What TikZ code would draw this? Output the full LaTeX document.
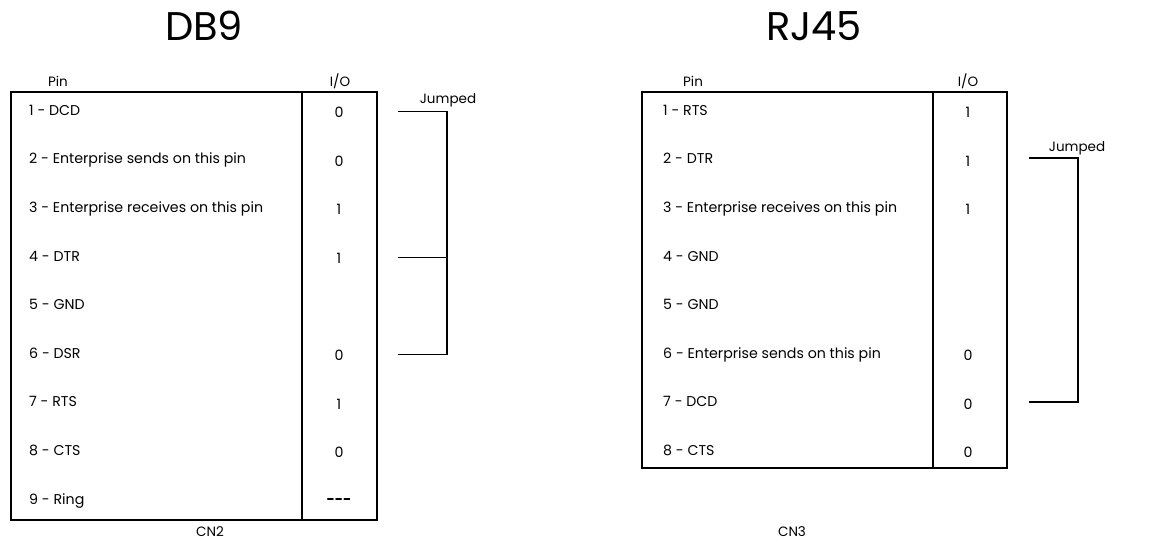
\documentclass[tikz,border=0pt]{standalone}
\usepackage{fontspec}
\setmainfont{Poppins}

\begin{document}
\begin{tikzpicture}[x=1pt, y=-1pt,
    title/.style={font=\fontsize{40}{44}\selectfont},
    head/.style={font=\fontsize{13.5}{15}\selectfont, inner sep=0pt},
    pin/.style={anchor=mid west, font=\fontsize{14.2}{16}\selectfont, inner sep=0pt},
    io/.style={font=\fontsize{14.2}{16}\selectfont, inner sep=0pt},
    frame/.style={line width=1.6pt},
    jumper/.style={line width=1.5pt}]
    \useasboundingbox (0, 0) rectangle (1156, 542);

    % DB9 connector
    \node[title] at (204, 26)(db9){DB9};
    \node[head] at (58, 81)(dbpin){Pin};
    \node[head] at (340, 81)(dbio){I/O};
    \draw[frame] (11, 92) rectangle (377, 520);
    \draw[frame, line width=2.2pt] (302, 92) -- (302, 520);
    \node[pin] at (29, 112.5)(db1){1 - DCD};
    \node[pin] at (29, 161.1)(db2){2 - Enterprise sends on this pin};
    \node[pin] at (29, 209.7)(db3){3 - Enterprise receives on this pin};
    \node[pin] at (29, 258.3)(db4){4 - DTR};
    \node[pin] at (29, 306.9)(db5){5 - GND};
    \node[pin] at (29, 355.5)(db6){6 - DSR};
    \node[pin] at (29, 404.1)(db7){7 - RTS};
    \node[pin] at (29, 452.7)(db8){8 - CTS};
    \node[pin] at (29, 501.3)(db9r){9 - Ring};
    \node[io] at (339, 112.5)(dbio1){0};
    \node[io] at (339, 161.1)(dbio2){0};
    \node[io] at (339, 209.7)(dbio3){1};
    \node[io] at (339, 258.3)(dbio4){1};
    \node[io] at (339, 355.5)(dbio6){0};
    \node[io] at (339, 404.1)(dbio7){1};
    \node[io] at (339, 452.7)(dbio8){0};
    \node[io] at (339, 501.3)(dbio9){\textbf{-{}-{}-}};
    \node[head] at (210, 532)(cn2){CN2};

    % DB9 jumper
    \coordinate (dbj1) at (398, 111.5);
    \coordinate (dbj4) at (398, 257.3);
    \coordinate (dbj6) at (398, 354.5);
    \coordinate (dbbar) at (447, 111.5);
    \node[head] at (448, 100)(dbjumped){Jumped};
    \draw[jumper] (dbj1) -- (dbbar) |- (dbj6);
    \draw[jumper] (dbj4) -- (dbbar |- dbj4);

    % RJ45 connector
    \node[title] at (814, 26)(rj45){RJ45};
    \node[head] at (693, 81)(rjpin){Pin};
    \node[head] at (968, 81)(rjio){I/O};
    \draw[frame] (642, 92) rectangle (1007, 468);
    \draw[frame, line width=2.2pt] (933, 92) -- (933, 468);
    \node[pin] at (663, 112.5)(rj1){1 - RTS};
    \node[pin] at (663, 161.1)(rj2){2 - DTR};
    \node[pin] at (663, 209.7)(rj3){3 - Enterprise receives on this pin};
    \node[pin] at (663, 258.3)(rj4){4 - GND};
    \node[pin] at (663, 306.9)(rj5){5 - GND};
    \node[pin] at (663, 355.5)(rj6){6 - Enterprise sends on this pin};
    \node[pin] at (663, 404.1)(rj7){7 - DCD};
    \node[pin] at (663, 452.7)(rj8){8 - CTS};
    \node[io] at (968, 112.5)(rjio1){1};
    \node[io] at (968, 161.1)(rjio2){1};
    \node[io] at (968, 209.7)(rjio3){1};
    \node[io] at (968, 355.5)(rjio6){0};
    \node[io] at (968, 404.1)(rjio7){0};
    \node[io] at (968, 452.7)(rjio8){0};
    \node[head] at (792, 532)(cn3){CN3};

    % RJ45 jumper
    \coordinate (rjj2) at (1029, 158);
    \coordinate (rjj7) at (1029, 402);
    \coordinate (rjbar) at (1078, 158);
    \node[head] at (1077, 148)(rjjumped){Jumped};
    \draw[jumper] (rjj2) -- (rjbar) |- (rjj7);
\end{tikzpicture}
\end{document}
